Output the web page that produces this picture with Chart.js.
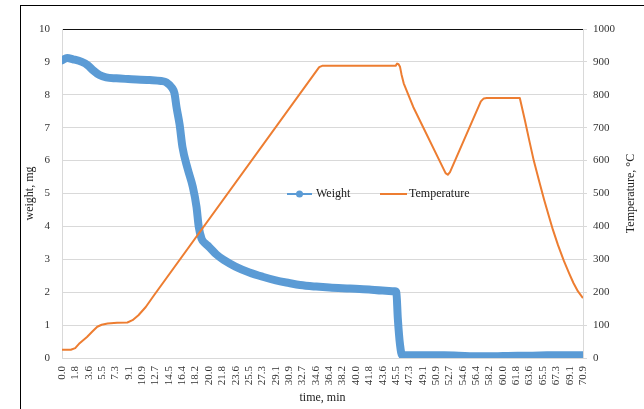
<!DOCTYPE html>
<html>
<head>
<meta charset="utf-8">
<script src="https://cdn.jsdelivr.net/npm/chart.js@4"></script>
<style>
  html, body { margin: 0; padding: 0; background: #fff; overflow: hidden; }
  #wrap { position: relative; width: 644px; height: 409px; }
</style>
</head>
<body>
<div id="wrap"><canvas id="tgaChart" width="644" height="409"></canvas></div>
<script>
// x axis tick labels (time, min)
var xTickLabels = ['0.0', '1.8', '3.6', '5.5', '7.3', '9.1', '10.9', '12.7', '14.5', '16.4',
    '18.2', '20.0', '21.8', '23.6', '25.5', '27.3', '29.1', '30.9', '32.7', '34.6',
    '36.4', '38.2', '40.0', '41.8', '43.6', '45.5', '47.3', '49.1', '50.9', '52.7',
    '54.6', '56.4', '58.2', '60.0', '61.8', '63.6', '65.5', '67.3', '69.1', '70.9'];
var xMax = 70.9;

// Weight series (mg)
var weightTime = [0, 0.7, 1.5, 2.7, 3.5, 4.2, 5.1, 6, 7.4, 9, 11.9, 13.5, 14.2, 15.0, 15.3,
    15.6, 16.0, 16.4, 17.1, 17.8, 18.3, 18.6, 19.0, 19.5, 20, 21, 22, 23.6, 25.5, 27.3,
    29.1, 30.9, 32.4, 34.6, 36.4, 39.2, 41.8, 43.6, 45.3, 45.5, 45.7, 46.0, 46.3, 48,
    50, 52, 54, 56, 58, 60, 62, 64, 66, 68, 70.9];
var weight = [9.05, 9.12, 9.08, 9.0, 8.9, 8.75, 8.6, 8.53, 8.5, 8.48, 8.45, 8.42, 8.38, 8.2, 8.05,
    7.6, 7.1, 6.4, 5.75, 5.2, 4.6, 4.0, 3.62, 3.48, 3.38, 3.15, 2.98, 2.78, 2.6, 2.47,
    2.36, 2.28, 2.22, 2.17, 2.14, 2.11, 2.08, 2.05, 2.03, 2.0, 1.2, 0.4, 0.08, 0.08,
    0.08, 0.08, 0.07, 0.05, 0.05, 0.06, 0.07, 0.07, 0.08, 0.08, 0.08];

// Temperature series (°C)
var tempTime = [0, 1.2, 1.8, 2.4, 3.4, 4.2, 4.8, 5.4, 6.2, 7.5, 8.9, 9.6, 10.4, 11.4, 12.5,
    35.0, 35.4, 45.4, 45.6, 45.8, 46.0, 46.2, 46.5, 47.8, 52.2, 52.5, 52.8, 57.0, 57.4,
    57.8, 62.3, 63.0, 63.6, 64.2, 64.9, 65.6, 66.3, 66.8, 67.5, 68.3, 69.0, 69.6, 70.2, 70.9];
var temperature = [25, 25, 30, 45, 64, 82, 95, 101, 105, 107, 108, 115, 130, 155, 190,
    884, 888, 888, 895, 893, 885, 862, 835, 763, 562, 557, 565, 780, 789,
    790, 790, 722, 660, 600, 540, 482, 428, 390, 343, 295, 258, 228, 203, 182];

var blue = '#5B9BD5';
var orange = '#ED7D31';
var serif = '"Liberation Serif", "Times New Roman", serif';

function toPoints(xs, ys) {
    return xs.map(function (x, i) { return { x: x, y: ys[i] }; });
}

// titles, legend and frame drawn by hand to match the Excel layout
var decorPlugin = {
    id: 'decor',
    beforeDraw: function (chart) {
        var ctx = chart.ctx;
        ctx.save();
        ctx.fillStyle = '#fff';
        ctx.fillRect(0, 0, chart.width, chart.height);
        ctx.strokeStyle = '#000';
        ctx.lineWidth = 1;
        ctx.strokeRect(20.5, 5.5, 700, 500);
        ctx.restore();
    },
    afterDraw: function (chart) {
        var ctx = chart.ctx;
        var area = chart.chartArea;
        var midY = (area.top + area.bottom) / 2;
        ctx.save();
        ctx.fillStyle = '#222';
        ctx.font = '12px ' + serif;
        ctx.textAlign = 'center';
        ctx.textBaseline = 'middle';
        ctx.fillText('time, min', (area.left + area.right) / 2, 398);

        ctx.save();
        ctx.translate(30, midY);
        ctx.rotate(-Math.PI / 2);
        ctx.fillText('weight, mg', 0, 0);
        ctx.restore();

        ctx.save();
        ctx.translate(631, midY);
        ctx.rotate(-Math.PI / 2);
        ctx.fillText('Temperature, \u00B0C', 0, 0);
        ctx.restore();

        // legend
        var ly = 194;
        ctx.lineWidth = 2;
        ctx.strokeStyle = blue;
        ctx.beginPath(); ctx.moveTo(287, ly); ctx.lineTo(312, ly); ctx.stroke();
        ctx.fillStyle = blue;
        ctx.beginPath(); ctx.arc(299.5, ly, 3.5, 0, Math.PI * 2); ctx.fill();
        ctx.strokeStyle = orange;
        ctx.beginPath(); ctx.moveTo(380, ly); ctx.lineTo(407, ly); ctx.stroke();
        ctx.fillStyle = '#222';
        ctx.textAlign = 'left';
        ctx.fillText('Weight', 316, ly);
        ctx.fillText('Temperature', 409, ly);
        ctx.restore();
    }
};

var ctx = document.getElementById('tgaChart').getContext('2d');
var tgaChart = new Chart(ctx, {
    type: 'line',
    data: {
        datasets: [{
            label: 'Weight',
            data: toPoints(weightTime, weight),
            borderColor: blue,
            backgroundColor: blue,
            borderWidth: 8,
            borderCapStyle: 'round',
            borderJoinStyle: 'round',
            pointRadius: 0,
            cubicInterpolationMode: 'monotone',
            yAxisID: 'y',
            order: 2
        }, {
            label: 'Temperature',
            data: toPoints(tempTime, temperature),
            borderColor: orange,
            backgroundColor: orange,
            borderWidth: 2,
            borderJoinStyle: 'round',
            pointRadius: 0,
            tension: 0,
            yAxisID: 'y1',
            order: 1
        }]
    },
    options: {
        responsive: false,
        animation: false,
        layout: { padding: { top: 29, left: 0, right: 0, bottom: 0 } },
        plugins: {
            legend: { display: false },
            tooltip: { enabled: false }
        },
        scales: {
            x: {
                type: 'linear',
                min: 0,
                max: xMax,
                afterBuildTicks: function (scale) {
                    var step = xMax / (xTickLabels.length - 1);
                    scale.ticks = xTickLabels.map(function (l, i) { return { value: i * step }; });
                },
                afterFit: function (scale) { scale.height = 51; },
                ticks: {
                    autoSkip: false,
                    minRotation: 90,
                    maxRotation: 90,
                    padding: 8,
                    color: '#333',
                    font: { family: serif, size: 11 },
                    callback: function (v, i) { return xTickLabels[i]; }
                },
                grid: { display: false, drawTicks: false },
                border: { color: '#d9d9d9' }
            },
            y: {
                position: 'left',
                min: 0,
                max: 10,
                afterFit: function (scale) { scale.width = 62; },
                ticks: {
                    stepSize: 1,
                    padding: 12,
                    color: '#333',
                    font: { family: serif, size: 11 }
                },
                grid: {
                    drawTicks: false,
                    color: function (c) { return c.tick && c.tick.value === 10 ? '#111' : '#d9d9d9'; }
                },
                border: { color: '#d9d9d9' }
            },
            y1: {
                position: 'right',
                min: 0,
                max: 1000,
                afterFit: function (scale) { scale.width = 61; },
                ticks: {
                    stepSize: 100,
                    padding: 6,
                    color: '#333',
                    font: { family: serif, size: 11 },
                    callback: function (v) { return String(v); }
                },
                grid: { drawOnChartArea: false, drawTicks: true, tickLength: 4, color: '#d9d9d9' },
                border: { color: '#d9d9d9' }
            }
        }
    },
    plugins: [decorPlugin]
});
</script>
</body>
</html>
